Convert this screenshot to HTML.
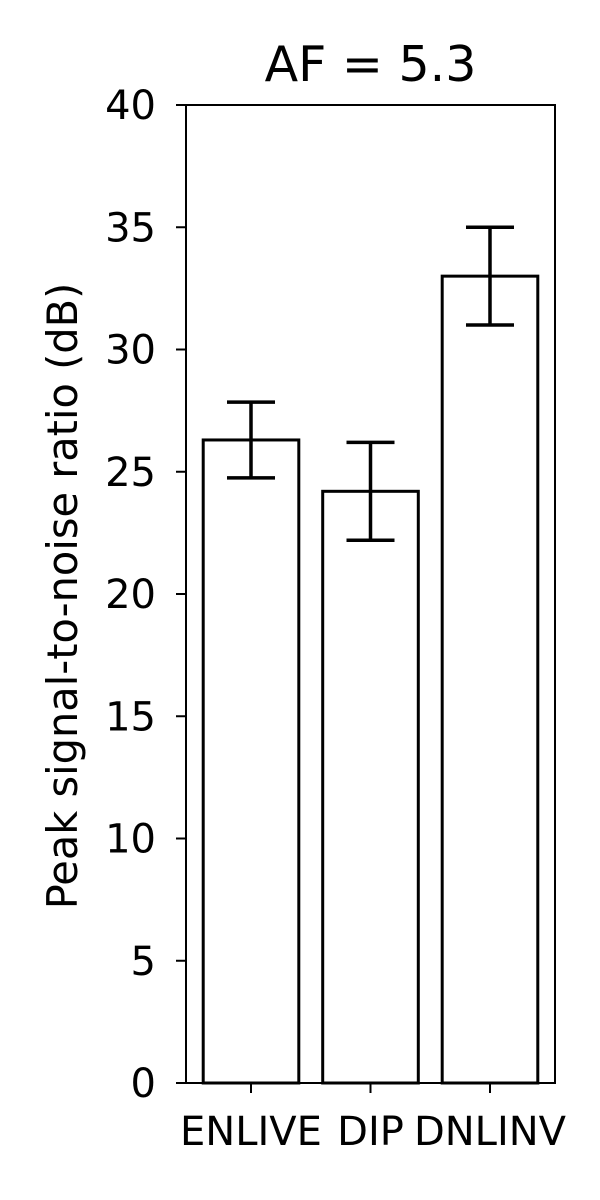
<!DOCTYPE html>
<html>
<head>
<meta charset="utf-8">
<style>
  html, body { margin: 0; padding: 0; background: #fff; }
  svg { display: block; font-family: "DejaVu Sans", "Liberation Sans", sans-serif; }
</style>
</head>
<body>
<svg id="chart" width="600" height="1200" viewBox="0 0 600 1200"></svg>
<script>
const categories = ["ENLIVE", "DIP", "DNLINV"];
const values = [26.3, 24.2, 33.0];
const errors = [1.55, 2.0, 2.0];
const yTicks = [0, 5, 10, 15, 20, 25, 30, 35, 40];
const titleText = "AF = 5.3";
const yLabelText = "Peak signal-to-noise ratio (dB)";

const NS = "http://www.w3.org/2000/svg";
const svg = document.getElementById("chart");
const L = 186, R = 555, T = 105, B = 1083;
const yMin = 0, yMax = 40;
const xMin = -0.544, xMax = 2.544;
const barW = 0.8;
function y(v) { return B - (v - yMin) / (yMax - yMin) * (B - T); }
function x(i) { return L + (i - xMin) / (xMax - xMin) * (R - L); }
function mk(tag, attrs) {
  const el = document.createElementNS(NS, tag);
  for (const k in attrs) el.setAttribute(k, attrs[k]);
  svg.appendChild(el);
  return el;
}

categories.forEach((c, i) => {
  const x0 = x(i - barW / 2), x1 = x(i + barW / 2);
  const r = mk("rect", { x: x0, y: y(values[i]), width: x1 - x0, height: y(0) - y(values[i]), fill: "#fff", stroke: "#000", "stroke-width": 3 });
  
  
  const cx = x(i);
  const g = document.createElementNS(NS, "g");
  
  
  svg.appendChild(g);
  const lo = y(values[i] - errors[i]), hi = y(values[i] + errors[i]);
  [[cx, lo, cx, hi], [cx - 24, lo, cx + 24, lo], [cx - 24, hi, cx + 24, hi]].forEach(p => {
    const l = document.createElementNS(NS, "line");
    l.setAttribute("x1", p[0]); l.setAttribute("y1", p[1]);
    l.setAttribute("x2", p[2]); l.setAttribute("y2", p[3]);
    l.setAttribute("stroke", "#000"); l.setAttribute("stroke-width", 3.5);
    g.appendChild(l);
  });
  mk("line", { x1: cx, y1: B, x2: cx, y2: B + 10, stroke: "#000", "stroke-width": 2 });
  const t = mk("text", { x: cx, y: B + 62, "text-anchor": "middle", "font-size": 40, fill: "#000" });
  t.textContent = c;
  
  
});

const frame = mk("rect", { x: L, y: T, width: R - L, height: B - T, fill: "none", stroke: "#000", "stroke-width": 2 });



yTicks.forEach(v => {
  mk("line", { x1: L - 10, y1: y(v), x2: L, y2: y(v), stroke: "#000", "stroke-width": 2 });
  const t = mk("text", { x: L - 30, y: y(v) + 14, "text-anchor": "end", "font-size": 40, fill: "#000" });
  t.textContent = v;
  
  
});

const yl = mk("text", { x: 0, y: 0, transform: "translate(77," + ((T + B) / 2 + 2) + ") rotate(-90)", "text-anchor": "middle", "font-size": 41.5, fill: "#000" });
yl.textContent = yLabelText;



const tt = mk("text", { x: (L + R) / 2, y: 81, "text-anchor": "middle", "font-size": 49, fill: "#000" });
tt.textContent = titleText;


</script>
</body>
</html>
